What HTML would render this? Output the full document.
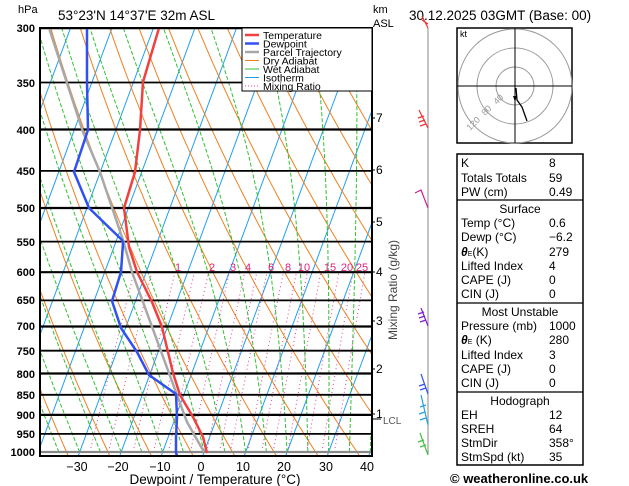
<!DOCTYPE html>
<html><head><meta charset="utf-8"><style>
body{margin:0;background:#fff;width:629px;height:486px;overflow:hidden}
svg{display:block;font-family:"Liberation Sans",sans-serif}
</style></head><body>
<svg id="s" width="629" height="486" viewBox="0 0 629 486">
<defs><clipPath id="cp"><rect x="40" y="28" width="332" height="428"/></clipPath></defs>
<g id="bg" clip-path="url(#cp)"></g>
<g id="iso"></g>
<g clip-path="url(#cp)" fill="none" stroke-linejoin="round">
<polyline stroke="#a8a8a8" stroke-width="2.5" points="49,28 83,132 100,172 123,240 132,272 177,395 187,422 204,452"/>
<polyline stroke="#3050f0" stroke-width="2.5" points="87,28 87,82 88,130 74,172 89,208 122,240 123,243 121,272 112,301 121,328 137,352 149,375 176,394 177,417 176,437 176,453 178,458"/>
<polyline stroke="#f04040" stroke-width="2.5" points="159,28 143,82 140,130 135,172 124,208 129,247 137,272 152,302 162,327 173,373 180,395 193,417 203,437 207,453"/>
</g>
<rect x="40" y="28" width="332" height="428" fill="none" stroke="#000" stroke-width="2"/>
<g font-size="11" fill="#e0207a" text-anchor="middle">
<text x="178" y="271">1</text><text x="212" y="271">2</text><text x="233" y="271">3</text><text x="248" y="271">4</text><text x="271" y="271">6</text><text x="288" y="271">8</text><text x="304" y="271">10</text><text x="330" y="271">15</text><text x="347" y="271">20</text><text x="362" y="271">25</text>
</g>
<!-- legend -->
<rect x="242" y="28" width="130" height="63" fill="#fff" stroke="#000"/>
<g stroke-width="2.5">
<line x1="245" y1="35" x2="259" y2="35" stroke="#f04040"/>
<line x1="245" y1="43.5" x2="259" y2="43.5" stroke="#3050f0"/>
<line x1="245" y1="52" x2="259" y2="52" stroke="#a8a8a8"/>
<line x1="245" y1="60.5" x2="259" y2="60.5" stroke="#f08020" stroke-width="1"/>
<line x1="245" y1="69" x2="259" y2="69" stroke="#30c030" stroke-width="1"/>
<line x1="245" y1="77.5" x2="259" y2="77.5" stroke="#20a0f0" stroke-width="1"/>
<line x1="245" y1="86" x2="259" y2="86" stroke="#e040a0" stroke-width="1" stroke-dasharray="1,2"/>
</g>
<g font-size="10.5" fill="#000">
<text x="263" y="39">Temperature</text><text x="263" y="47.5">Dewpoint</text><text x="263" y="56">Parcel Trajectory</text><text x="263" y="64.5">Dry Adiabat</text><text x="263" y="73">Wet Adiabat</text><text x="263" y="81.5">Isotherm</text><text x="263" y="90">Mixing Ratio</text>
</g>
<!-- axes labels -->
<g font-size="11" font-weight="bold" text-anchor="end" fill="#000">
<text x="35" y="32">300</text><text x="35" y="87">350</text><text x="35" y="134">400</text><text x="35" y="175">450</text><text x="35" y="212">500</text><text x="35" y="246">550</text><text x="35" y="276">600</text><text x="35" y="304">650</text><text x="35" y="330">700</text><text x="35" y="355">750</text><text x="35" y="378">800</text><text x="35" y="399">850</text><text x="35" y="419">900</text><text x="35" y="438">950</text><text x="35" y="456">1000</text>
</g>
<g font-size="12.5" text-anchor="middle" fill="#000">
<text x="77" y="471">−30</text><text x="118" y="471">−20</text><text x="160" y="471">−10</text><text x="201" y="471">0</text><text x="243" y="471">10</text><text x="284" y="471">20</text><text x="326" y="471">30</text><text x="367" y="471">40</text>
<text x="215" y="484" font-size="13.5">Dewpoint / Temperature (°C)</text>
</g>
<g font-size="12" fill="#000">
<text x="18" y="13" font-size="11">hPa</text>
<text x="58" y="20" font-size="13.5">53°23'N  14°37'E  32m  ASL</text>
<text x="409" y="20" font-size="13.5">30.12.2025 03GMT (Base: 00)</text>
<text x="373" y="13" font-size="11">km</text><text x="373" y="27" font-size="11">ASL</text>
<text x="376" y="122">7</text><text x="376" y="174">6</text><text x="376" y="226">5</text><text x="376" y="276">4</text><text x="376" y="325">3</text><text x="376" y="373">2</text><text x="376" y="418">1</text>
<text x="383" y="424" font-size="10" fill="#555">LCL</text>
</g>
<g fill="none" stroke="#000"><line x1="372" y1="118" x2="375" y2="118"/><line x1="372" y1="170" x2="375" y2="170"/><line x1="372" y1="222" x2="375" y2="222"/><line x1="372" y1="272" x2="375" y2="272"/><line x1="372" y1="321" x2="375" y2="321"/><line x1="372" y1="369" x2="375" y2="369"/><line x1="372" y1="414" x2="375" y2="414"/><line x1="372" y1="419" x2="381" y2="419"/></g>
<text transform="translate(397,340) rotate(-90)" font-size="12" fill="#444">Mixing Ratio (g/kg)</text>
<!-- wind column -->
<line x1="428" y1="28" x2="428" y2="455" stroke="#888" stroke-width="1"/>
<g fill="none" stroke-width="1.2">
<path d="M428,28 l-6,-12 M428,24 l-6,-4" stroke="#f03030"/>
<path d="M428,128 l-9,-18 M426,124 l-6,2 M425,120 l-6,2 M424,116 l-6,2" stroke="#f03030"/>
<path d="M428,208 l-7,-18 l-6,3" stroke="#d02090"/>
<path d="M428,326 l-7,-18 M426,320 l-6,2 M425,316 l-6,2 M424,312 l-6,2" stroke="#8020d0"/>
<path d="M428,394 l-7,-20 M426,388 l-6,2 M425,384 l-6,2" stroke="#3050f0"/>
<path d="M428,425 l-7,-30 M426,405 l-6,2 M425,412 l-6,2 M426,418 l-6,2" stroke="#20a0e0"/>
<path d="M428,455 l-8,-22 M426,445 l-6,2 M424,440 l-6,2" stroke="#40c040"/>
</g>
<!-- hodograph -->
<rect x="457" y="28" width="115" height="115" fill="#fff" stroke="#000" stroke-width="1.5"/>
<g fill="none" stroke="#999"><circle cx="515" cy="86" r="19"/><circle cx="515" cy="86" r="38"/><circle cx="515" cy="86" r="57"/></g>
<g stroke="#000"><line x1="457" y1="86" x2="572" y2="86"/><line x1="515" y1="28" x2="515" y2="143"/></g>
<text x="460" y="37" font-size="9">kt</text>
<g font-size="9" fill="#999"><text transform="translate(497,105) rotate(-45)">40</text><text transform="translate(485,116) rotate(-45)">80</text><text transform="translate(470,131) rotate(-45)">120</text></g>
<polyline fill="none" stroke="#000" stroke-width="1.3" points="516,88 517,100 522,107 527,121"/>
<path d="M513,96 l2,6 l2,-6z" fill="#000"/>
<!-- table -->
<rect x="457" y="154" width="126" height="311" fill="#fff" stroke="#000" stroke-width="1.5"/>
<g stroke="#000" stroke-width="1.2"><line x1="457" y1="200" x2="583" y2="200"/><line x1="457" y1="303" x2="583" y2="303"/><line x1="457" y1="392" x2="583" y2="392"/></g>
<g font-size="12" fill="#000">
<text x="461" y="167">K</text><text x="549" y="167">8</text>
<text x="461" y="182">Totals Totals</text><text x="549" y="182">59</text>
<text x="461" y="196">PW (cm)</text><text x="549" y="196">0.49</text>
<text x="520" y="213" text-anchor="middle">Surface</text>
<text x="461" y="227">Temp (°C)</text><text x="549" y="227">0.6</text>
<text x="461" y="241">Dewp (°C)</text><text x="549" y="241">−6.2</text>
<text x="461" y="256"><tspan font-weight="bold" font-style="italic">θ</tspan><tspan font-size="7">E</tspan>(K)</text><text x="549" y="256">279</text>
<text x="461" y="270">Lifted Index</text><text x="549" y="270">4</text>
<text x="461" y="284">CAPE (J)</text><text x="549" y="284">0</text>
<text x="461" y="298">CIN (J)</text><text x="549" y="298">0</text>
<text x="520" y="316" text-anchor="middle">Most Unstable</text>
<text x="461" y="330">Pressure (mb)</text><text x="549" y="330">1000</text>
<text x="461" y="344"><tspan font-weight="bold" font-style="italic">θ</tspan><tspan font-size="7">E</tspan> (K)</text><text x="549" y="344">280</text>
<text x="461" y="359">Lifted Index</text><text x="549" y="359">3</text>
<text x="461" y="373">CAPE (J)</text><text x="549" y="373">0</text>
<text x="461" y="387">CIN (J)</text><text x="549" y="387">0</text>
<text x="520" y="405" text-anchor="middle">Hodograph</text>
<text x="461" y="419">EH</text><text x="549" y="419">12</text>
<text x="461" y="433">SREH</text><text x="549" y="433">64</text>
<text x="461" y="447">StmDir</text><text x="549" y="447">358°</text>
<text x="461" y="461">StmSpd (kt)</text><text x="549" y="461">35</text>
<text x="450" y="483" font-size="13" font-weight="bold">© weatheronline.co.uk</text>
</g>
</svg>
<script>
(function(){
var NS="http://www.w3.org/2000/svg";
function Y(p){return 452+352*Math.log(p/1000);}
function X(T,p){var y=Y(p);return 203+4.15*T+0.37*(455-y);}
var bg=document.getElementById('bg'),iso=document.getElementById('iso');
function pl(pts,st,w,da,g){var e=document.createElementNS(NS,'polyline');e.setAttribute('points',pts.map(function(a){return a[0].toFixed(1)+','+a[1].toFixed(1)}).join(' '));e.setAttribute('fill','none');e.setAttribute('stroke',st);e.setAttribute('stroke-width',w);if(da)e.setAttribute('stroke-dasharray',da);(g||bg).appendChild(e);}
var ps=[];for(var p=1010;p>=290;p-=10)ps.push(p);
// isotherms
for(var T=-120;T<=50;T+=10){pl([[X(T,1050),Y(1050)],[X(T,280),Y(280)]],'#20a0f0',1);}
// dry adiabats
for(var th=200;th<=480;th+=10){var a=[];ps.forEach(function(p){a.push([X(th*Math.pow(p/1000,0.286)-273.15,p),Y(p)]);});pl(a,'#f08020',1);}
// moist adiabats
function es(T){return 6.112*Math.exp(17.67*T/(T+243.5));}
for(var T0=-40;T0<=40;T0+=5){var T=T0+273.15,a=[[X(T0,1000),Y(1000)]];for(var p=1000;p>290;p-=5){var rs=0.622*es(T-273.15)/(p-es(T-273.15));var dT=(287*T+2.5e6*rs)/(p*(1004+2.5e6*2.5e6*rs*0.622/(287*T*T)));T-=dT*5;a.push([X(T-273.15,p-5),Y(p-5)]);}pl(a,'#30c030',1,'4,2');}
// mixing ratio
[0.4,0.6,1,1.5,2,3,4,5,6,8,10,12,15,20,25,30].forEach(function(w){var a=[];for(var p=1000;p>=600;p-=20){var e=w*p/(622+w),l=Math.log(e/6.112);a.push([X(243.5*l/(17.67-l),p),Y(p)]);}pl(a,'#e040a0',1,'1,3');});
// isobars
[300,350,400,450,500,550,600,650,700,750,800,850,900,950,1000].forEach(function(p){pl([[40,Y(p)],[372,Y(p)]],p==1000?'#888':'#000',p%100==0?2.2:1.8,null,iso);});
})();
</script>
</body></html>
